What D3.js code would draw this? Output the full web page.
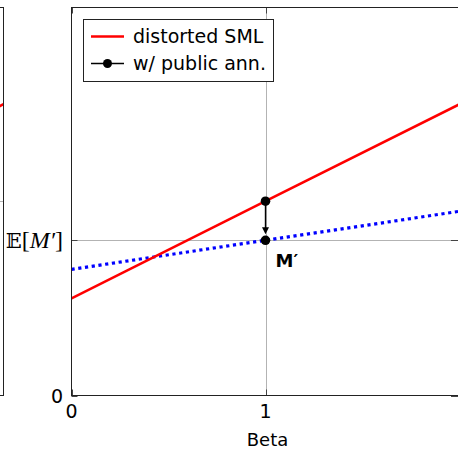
<!DOCTYPE html>
<html><head><meta charset="utf-8">
<script src="https://cdn.jsdelivr.net/npm/d3@7"></script>
<style>body{margin:0;background:#fff}svg{display:block}</style>
</head><body>
<script>
// data
const betaPts = [0, 1, 2];
const distortedSML = [0.626, 1.252, 1.877];
const publicAnn = [0.813, 1.0, 1.187];
const annPoints = [{beta: 1, value: 1.252}, {beta: 1, value: 1.0}];
const xTicks = [0, 1];
const xTickLabels = ["0", "1"];
const yTicks = [0, 1];
const leftGrid = 1.252;
const legendLabels = ["distorted SML", "w/ public ann."];

(function () {
const W = 458, H = 450;
const font = "'DejaVu Sans', sans-serif";
const svg = d3.select("body").append("svg").attr("width", W).attr("height", H);

const pTop = 7.5, pBottom = 395.5, pLeft = 71.5, pRight = 459.5;
const x = d3.scaleLinear().domain([0, 2]).range([pLeft, pRight]);
const y = d3.scaleLinear().domain([0, 2.5]).range([pBottom, pTop]);
const xl = d3.scaleLinear().domain([0, 2]).range([3.5 - (pRight - pLeft), 3.5]);

// left (cut-off) panel
const gl = svg.append("g");
gl.append("line").attr("x1", 0).attr("x2", 3.5).attr("y1", Math.round(y(leftGrid)) + 0.5).attr("y2", Math.round(y(leftGrid)) + 0.5)
  .attr("stroke", "#b3b3b3").attr("stroke-width", 1);
gl.append("path").datum(betaPts.map((b, i) => [b, distortedSML[i]]))
  .attr("d", d3.line().x(d => xl(d[0])).y(d => y(d[1])))
  .attr("fill", "none").attr("stroke", "#ff0000").attr("stroke-width", 2.6);
gl.append("rect").attr("x", -20).attr("y", pTop).attr("width", 23.5).attr("height", pBottom - pTop)
  .attr("fill", "none").attr("stroke", "#222").attr("stroke-width", 1);

// main panel
svg.append("clipPath").attr("id", "c").append("rect")
  .attr("x", pLeft).attr("y", pTop).attr("width", pRight - pLeft).attr("height", pBottom - pTop);
const g = svg.append("g");
xTicks.filter(t => t > 0).forEach(t => {
  g.append("line").attr("x1", Math.round(x(t)) + 0.5).attr("x2", Math.round(x(t)) + 0.5).attr("y1", pTop).attr("y2", pBottom)
    .attr("stroke", "#b3b3b3");
});
yTicks.filter(t => t > 0).forEach(t => {
  g.append("line").attr("y1", Math.round(y(t)) + 0.5).attr("y2", Math.round(y(t)) + 0.5).attr("x1", pLeft).attr("x2", pRight)
    .attr("stroke", "#b3b3b3");
});
xTicks.forEach(t => {
  const xx = Math.round(x(t)) + 0.5;
  g.append("line").attr("x1", xx).attr("x2", xx).attr("y1", pBottom).attr("y2", pBottom - 6).attr("stroke", "#444");
  g.append("line").attr("x1", xx).attr("x2", xx).attr("y1", pTop).attr("y2", pTop + 6).attr("stroke", "#444");
});
yTicks.forEach(t => {
  const yy = Math.round(y(t)) + 0.5;
  g.append("line").attr("x1", pLeft).attr("x2", pLeft + 6).attr("y1", yy).attr("y2", yy).attr("stroke", "#444");
  g.append("line").attr("x1", W - 7).attr("x2", pRight).attr("y1", yy).attr("y2", yy).attr("stroke", "#444");
});

const gc = g.append("g").attr("clip-path", "url(#c)");
gc.append("path").datum(betaPts.map((b, i) => [b, publicAnn[i]]))
  .attr("d", d3.line().x(d => x(d[0])).y(d => y(d[1])))
  .attr("fill", "none").attr("stroke", "#0000ff").attr("stroke-width", 3.2).attr("stroke-dasharray", "3.2,3.6");
gc.append("path").datum(betaPts.map((b, i) => [b, distortedSML[i]]))
  .attr("d", d3.line().x(d => x(d[0])).y(d => y(d[1])))
  .attr("fill", "none").attr("stroke", "#ff0000").attr("stroke-width", 2.6);

const ax = x(annPoints[0].beta), ay1 = y(annPoints[0].value), ay2 = y(annPoints[1].value);
g.append("line").attr("x1", ax).attr("x2", ax).attr("y1", ay1).attr("y2", ay2 - 10)
  .attr("stroke", "#000").attr("stroke-width", 1.4);
g.append("path").attr("d", `M${ax - 3.5},${ay2 - 13} L${ax},${ay2 - 6} L${ax + 3.5},${ay2 - 13} Z`).attr("fill", "#000");
g.selectAll("circle.pt").data(annPoints).join("circle").attr("class", "pt")
  .attr("cx", d => x(d.beta)).attr("cy", d => y(d.value)).attr("r", 4.8).attr("fill", "#000");
g.append("text").attr("x", x(1) + 10).attr("y", y(1) + 27).attr("font-family", font).attr("font-weight", "bold")
  .attr("font-size", 18).text("M′");

g.append("rect").attr("x", pLeft).attr("y", pTop).attr("width", pRight - pLeft).attr("height", pBottom - pTop)
  .attr("fill", "none").attr("stroke", "#222").attr("stroke-width", 1);

xTicks.forEach((t, i) => {
  svg.append("text").attr("x", x(t)).attr("y", 418).attr("text-anchor", "middle")
    .attr("font-family", font).attr("font-size", 19).text(xTickLabels[i]);
});
svg.append("text").attr("x", 63).attr("y", y(0) + 7).attr("text-anchor", "end")
  .attr("font-family", font).attr("font-size", 19).text("0");
const yl = svg.append("text").attr("x", 63).attr("y", y(1) + 8).attr("text-anchor", "end")
  .attr("font-family", "'Liberation Serif', 'DejaVu Serif', serif").attr("font-size", 24);
yl.append("tspan").attr("font-family", "'DejaVu Serif', serif").attr("font-size", 21).text("𝔼");
yl.append("tspan").text("[");
yl.append("tspan").attr("font-style", "italic").text("M′");
yl.append("tspan").text("]");
svg.append("text").attr("x", x(1) + 2).attr("y", 446).attr("text-anchor", "middle")
  .attr("font-family", font).attr("font-size", 18).text("Beta");

const lg = svg.append("g");
lg.append("rect").attr("x", 83.5).attr("y", 19.5).attr("width", 190).attr("height", 62)
  .attr("fill", "#fff").attr("stroke", "#222");
lg.append("line").attr("x1", 91).attr("x2", 124).attr("y1", 36.5).attr("y2", 36.5).attr("stroke", "#ff0000").attr("stroke-width", 2.6);
lg.append("line").attr("x1", 91).attr("x2", 124).attr("y1", 63.5).attr("y2", 63.5).attr("stroke", "#000").attr("stroke-width", 1.4);
lg.append("circle").attr("cx", 107.5).attr("cy", 63.5).attr("r", 4.5).attr("fill", "#000");
legendLabels.forEach((l, i) => {
  lg.append("text").attr("x", 133).attr("y", 43 + i * 27).attr("font-family", font).attr("font-size", 19).text(l);
});
})();
</script>
</body></html>
